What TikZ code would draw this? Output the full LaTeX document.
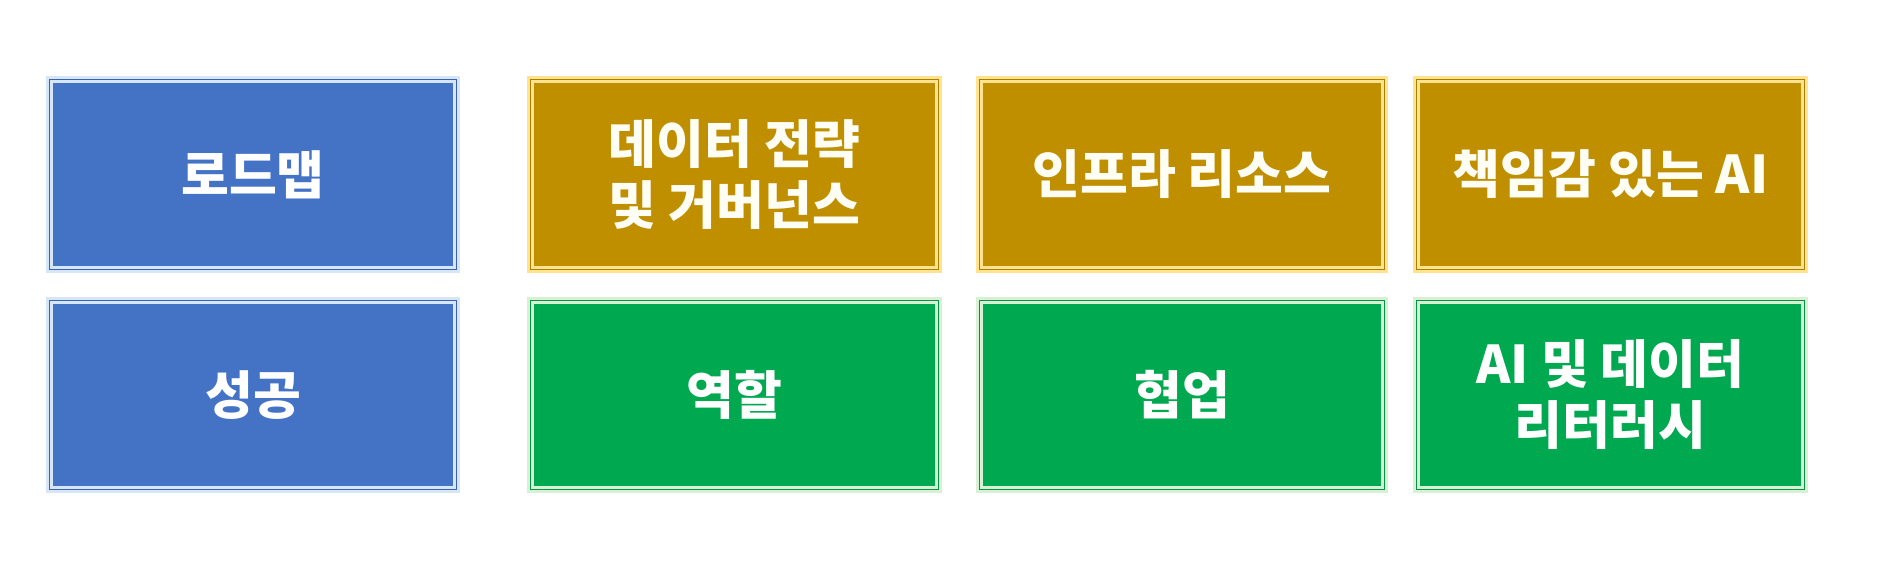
\documentclass[tikz,border=0pt]{standalone}
\usepackage{fontspec}
\newfontfamily\kr{Noto Sans CJK KR}
\definecolor{bfill}{HTML}{4472C4}
\definecolor{bedge}{HTML}{D6E6F6}
\definecolor{bline}{HTML}{3A62AE}
\definecolor{gfill}{HTML}{BF8F00}
\definecolor{gedge}{HTML}{FFE390}
\definecolor{gline}{HTML}{A97F00}
\definecolor{nfill}{HTML}{00A850}
\definecolor{nedge}{HTML}{D8F0D4}
\definecolor{nline}{HTML}{009445}
\begin{document}
\begin{tikzpicture}[x=1pt,y=-1pt,
  card/.style={rectangle, line width=7pt, inner sep=0pt, align=center,
    text=white, font=\kr\bfseries\fontsize{52}{61}\selectfont},
  bluecard/.style={card, fill=bfill, draw=bedge},
  goldcard/.style={card, fill=gfill, draw=gedge, text=white!96!yellow},
  greencard/.style={card, fill=nfill, draw=nedge},
  rim/.style={line width=1pt}]
\useasboundingbox (0,0) rectangle (1899,560);
\fill[white] (0,0) rectangle (1899,560);
% row 1
\node[bluecard, minimum width=407pt, minimum height=190pt] (a1) at (253,174.5) {로드맵};
\node[goldcard, minimum width=408pt, minimum height=190pt] (a2) at (734.5,174.5) {데이터 전략\\및 거버넌스};
\node[goldcard, minimum width=405pt, minimum height=190pt] (a3) at (1182,174.5) {인프라 리소스};
\node[goldcard, minimum width=388pt, minimum height=190pt] (a4) at (1610.5,174.5) {책임감 있는 AI};
% row 2
\node[bluecard, minimum width=407pt, minimum height=189pt] (b1) at (253,395) {성공};
\node[greencard, minimum width=408pt, minimum height=189pt] (b2) at (734.5,395) {역할};
\node[greencard, minimum width=405pt, minimum height=189pt] (b3) at (1182,395) {협업};
\node[greencard, minimum width=388pt, minimum height=189pt] (b4) at (1610.5,395) {AI 및 데이터\\리터러시};
% thin dark rims at the fill edge
\foreach \n/\c in {a1/bline,b1/bline,a2/gline,a3/gline,a4/gline,b2/nline,b3/nline,b4/nline}{
  \draw[rim,\c] ([shift={(3.5,3.5)}]\n.north west) rectangle ([shift={(-3.5,-3.5)}]\n.south east);
}
\end{tikzpicture}
\end{document}
